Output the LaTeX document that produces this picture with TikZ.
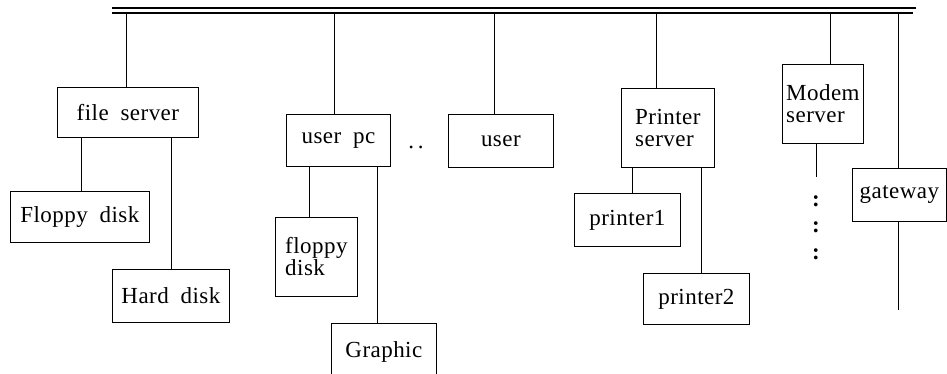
\documentclass[tikz,border=0pt]{standalone}
\usepackage{fontspec}
\setmainfont{Liberation Serif}[LetterSpace=2, WordSpace=1.9]
\usetikzlibrary{calc}
\begin{document}
\begin{tikzpicture}[x=1pt,y=-1pt,
  unit/.style={draw, line width=0.8pt, inner sep=0pt, anchor=north west,
    font=\fontsize{23}{22}\selectfont, align=left},
  link/.style={line width=0.8pt},
  busline/.style={line width=1.1pt},
  mark text/.style={font=\fontsize{23}{22}\selectfont\bfseries, inner sep=0pt}]
\clip (0,0) rectangle (947,374);

% backbone bus (double line)
\coordinate (busA) at (112,8);
\coordinate (busB) at (916,8);
\coordinate (busC) at (112,13);
\coordinate (busD) at (913,13);
\draw[busline] (busA) -- (busB);
\draw[busline] (busC) -- (busD);

% stations
\node[unit, minimum width=141, minimum height=50] (fs)  at (57,87)   {file server};
\node[unit, minimum width=139, minimum height=51] (fd)  at (10,191)  {Floppy disk};
\node[unit, minimum width=117, minimum height=53] (hd)  at (112,269) {Hard disk};
\node[unit, minimum width=104, minimum height=52] (pc)  at (286,114) {user pc};
\node[unit, minimum width=82,  minimum height=79] (fd2) at (275,217) {floppy\\disk};
\node[unit, minimum width=105, minimum height=70] (gr)  at (331,323) {\raisebox{18pt}{Graphic}};
\node[unit, minimum width=105, minimum height=53] (us)  at (448,114) {user};
\node[unit, minimum width=93,  minimum height=79] (ps)  at (621,88)  {Printer\\server};
\node[unit, minimum width=106, minimum height=53] (p1)  at (574,193) {printer1};
\node[unit, minimum width=106, minimum height=51] (p2)  at (643,273) {printer2};
\node[unit, minimum width=81,  minimum height=79] (ms)  at (782,64)  {Modem\\server};
\node[unit, minimum width=94,  minimum height=53] (gw)  at (852,168) {gateway};

% taps on the bus
\coordinate (t1) at (126,13);
\coordinate (t2) at (334,13);
\coordinate (t3) at (494,13);
\coordinate (t4) at (656,13);
\coordinate (t5) at (830,13);
\coordinate (t6) at (898,13);
\draw[link] (t1) -- (t1 |- fs.north);
\draw[link] (t2) -- (t2 |- pc.north);
\draw[link] (t3) -- (t3 |- us.north);
\draw[link] (t4) -- (t4 |- ps.north);
\draw[link] (t5) -- (t5 |- ms.north);
\draw[link] (t6) -- (t6 |- gw.north);

% attached devices
\draw[link] ([xshift=1.5pt]fd.north) -- ([xshift=1.5pt]fd.north |- fs.south);
\draw[link] (hd.north) -- (hd.north |- fs.south);
\draw[link] ([xshift=-7pt]fd2.north) -- ([xshift=-7pt]fd2.north |- pc.south);
\draw[link] ([xshift=-6.5pt]gr.north) -- ([xshift=-6.5pt]gr.north |- pc.south);
\draw[link] ([xshift=5pt]p1.north) -- ([xshift=5pt]p1.north |- ps.south);
\draw[link] ([xshift=5pt]p2.north) -- ([xshift=5pt]p2.north |- ps.south);

% open ends below modem server and gateway
\coordinate (mend) at (816,177);
\coordinate (gend) at (898,310);
\draw[link] (mend |- ms.south) -- (mend);
\draw[link] (gend |- gw.south) -- (gend);

% ellipses
\node[font=\fontsize{23}{22}\selectfont, inner sep=0pt] (dd) at (416,147) {.\kern4pt.};
\node[mark text] (c1) at (816,201) {:};
\node[mark text] (c2) at (816,227) {:};
\node[mark text] (c3) at (816,254) {:};
\end{tikzpicture}
\end{document}
